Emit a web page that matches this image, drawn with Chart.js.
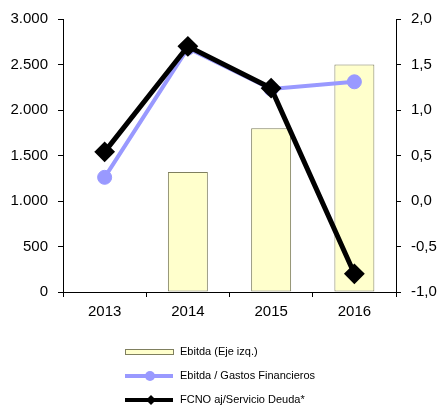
<!DOCTYPE html>
<html>
<head>
<meta charset="utf-8">
<script src="https://cdn.jsdelivr.net/npm/chart.js@4/dist/chart.umd.min.js"></script>
<style>
  body { margin: 0; background: #fff; }
  #wrap { width: 438px; height: 406px; position: relative; }
</style>
</head>
<body>
<div id="wrap"><canvas id="ebitdaChart"></canvas></div>
<script>
// datos
const years = ["2013", "2014", "2015", "2016"];
const ebitda = [0, 1320, 1800, 2500];
const ebitdaGastosFin = [0.26, 1.68, 1.23, 1.31];
const fcnoServDeuda = [0.54, 1.70, 1.24, -0.8];

const FONT = "'Liberation Sans', Arial, sans-serif";

// leyenda vertical dibujada en el canvas
const legendPlugin = {
  id: "verticalLegend",
  afterDraw(chart) {
    const ctx = chart.ctx;
    const ds = chart.data.datasets;
    const x0 = 125, x1 = 173, tx = 180;
    const rows = [352, 376, 400];
    ctx.save();
    ctx.font = "11px " + FONT;
    ctx.textBaseline = "middle";
    ctx.fillStyle = "#000";

    // barra
    ctx.fillStyle = ds[0].backgroundColor;
    ctx.strokeStyle = ds[0].borderColor;
    ctx.lineWidth = 1;
    ctx.fillRect(x0 + 0.5, rows[0] - 2.5, x1 - x0, 5);
    ctx.strokeRect(x0 + 0.5, rows[0] - 2.5, x1 - x0, 5);

    // linea azul
    ctx.strokeStyle = ds[1].borderColor;
    ctx.lineWidth = 4;
    ctx.beginPath();
    ctx.moveTo(x0, rows[1]);
    ctx.lineTo(x1, rows[1]);
    ctx.stroke();
    ctx.fillStyle = ds[1].borderColor;
    ctx.beginPath();
    ctx.arc(150, rows[1], 5, 0, Math.PI * 2);
    ctx.fill();

    // linea negra
    ctx.strokeStyle = "#000";
    ctx.lineWidth = 4;
    ctx.beginPath();
    ctx.moveTo(x0, rows[2]);
    ctx.lineTo(x1, rows[2]);
    ctx.stroke();
    ctx.fillStyle = "#000";
    ctx.beginPath();
    ctx.moveTo(151, rows[2] - 5);
    ctx.lineTo(156, rows[2]);
    ctx.lineTo(151, rows[2] + 5);
    ctx.lineTo(146, rows[2]);
    ctx.closePath();
    ctx.fill();

    ctx.fillStyle = "#000";
    ds.forEach((d, i) => ctx.fillText(d.label, tx, rows[i]));
    ctx.restore();
  },
};

const config = {
  type: "bar",
  data: {
    labels: years,
    datasets: [
      {
        label: "Ebitda (Eje izq.)",
        data: ebitda,
        backgroundColor: "#FFFFCC",
        borderColor: "#7F7F5F",
        borderWidth: 1,
        borderSkipped: false,
        categoryPercentage: 1,
        barPercentage: 0.48,
        yAxisID: "y",
        order: 3,
      },
      {
        type: "line",
        label: "Ebitda / Gastos Financieros",
        data: ebitdaGastosFin,
        borderColor: "#9999FF",
        backgroundColor: "#9999FF",
        borderWidth: 4,
        pointRadius: 7,
        pointBorderWidth: 1,
        pointStyle: "circle",
        tension: 0,
        yAxisID: "y1",
        order: 2,
      },
      {
        type: "line",
        label: "FCNO aj/Servicio Deuda*",
        data: fcnoServDeuda,
        borderColor: "#000",
        backgroundColor: "#000",
        borderWidth: 5,
        pointRadius: 9,
        pointBorderWidth: 2,
        pointStyle: "rectRot",
        tension: 0,
        yAxisID: "y1",
        order: 1,
      },
    ],
  },
  options: {
    responsive: true,
    maintainAspectRatio: false,
    animation: false,
    layout: {
      padding: { top: 17, bottom: 84, left: 0, right: 0 },
    },
    plugins: {
      legend: { display: false },
      tooltip: { enabled: false },
    },
    scales: {
      x: {
        grid: {
          drawOnChartArea: false,
          color: "#000",
          tickLength: 5,
          offset: true,
        },
        border: { color: "#000", width: 1 },
        ticks: {
          color: "#000",
          font: { family: FONT, size: 15 },
          padding: 6,
        },
        afterFit(scale) {
          scale.height = 30;
        },
      },
      y: {
        position: "left",
        min: 0,
        max: 3000,
        grid: { drawOnChartArea: false, color: "#000", tickLength: 5 },
        border: { color: "#000", width: 1 },
        ticks: {
          stepSize: 500,
          color: "#000",
          font: { family: FONT, size: 15 },
          padding: 10,
          callback: function (v) {
            return String(v).replace(/\B(?=(\d{3})+(?!\d))/g, ".");
          },
        },
        afterFit(scale) {
          scale.width = 63;
        },
      },
      y1: {
        position: "right",
        min: -1,
        max: 2,
        grid: { drawOnChartArea: false, color: "#000", tickLength: 5 },
        border: { color: "#000", width: 1 },
        ticks: {
          stepSize: 0.5,
          color: "#000",
          font: { family: FONT, size: 15 },
          padding: 10,
          callback: function (v) {
            return v.toFixed(1).replace(".", ",");
          },
        },
        afterFit(scale) {
          scale.width = 42;
        },
      },
    },
  },
  plugins: [legendPlugin],
};

document.addEventListener("DOMContentLoaded", () => {
  new Chart("ebitdaChart", config);
});
</script>
</body>
</html>
